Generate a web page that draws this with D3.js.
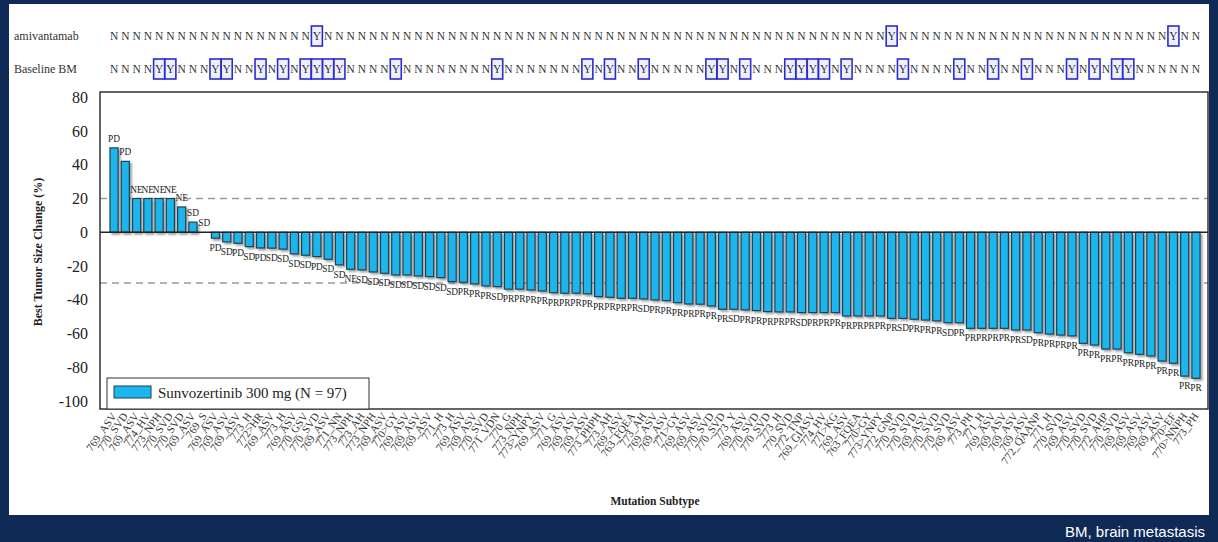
<!DOCTYPE html>
<html>
<head>
<meta charset="utf-8">
<script src="https://cdn.jsdelivr.net/npm/d3@7"></script>
<style>
  body { margin: 0; background: #0f2a56; }
  svg { display: block; }
  text { font-family: "Liberation Serif", "Times New Roman", serif; }
</style>
</head>
<body>
<svg id="chart"></svg>
<script>
// mutation subtype per patient (left to right)
let subtypes = [
  "769_ASV","770_SVD","769_ASV","774_HV","773_NPH","770_SVD","770_SVD","769_ASV","769_S","769_ASV",
  "769_ASV","769_ASV","773_H","772>HR","769_ASV","773_H","769_ASV","770_GSV","770_SVD","769_ASV",
  "771_NN","773_NPH","773_AH","773_NPH","769_ASV","770>GY","769_ASV","769_ASV","769_ASV","771_H",
  "773_H","769_ASV","769_ASV","770_SVD","771_VDN","770_G","773_NPH","773>YNPY","769_ASV","771_G",
  "769_ASV","769_ASV","769_ASV","773_PHPH","773_AH","769_ASV","763_FQEA","773_AH","769_ASV","769_ASV",
  "771>GY","769_ASV","769_ASV","770_SVD","770_SVD","773_Y","769_ASV","770_SVD","770_SVD","773_H",
  "770_SVD","772_TNP","769_GIASV","774_HV","771>KG","769_ASV","763_FQEA","770>GY","773>YNPY","772_GNP",
  "770_SVD","770_SVD","769_ASV","770_SVD","770_SVD","769_ASV","773_PH","771_H","769_ASV","769_ASV",
  "769_ASV","769_ASV","772_QAANP","771_H","770_SVD","769_ASV","770_SVD","770_SVD","772_AHP","770_SVD",
  "769_ASV","769_ASV","769_ASV","769_ASV","770>EF","770>NNPH","773_PH"
];

// best tumor size change (%)
let changes = [
  50, 42, 20, 20, 20, 20, 15, 6, 0, -3.5,
  -5.7, -6.5, -8.5, -9.3, -9.4, -10, -12.8, -13.6, -14.4, -16,
  -19.3, -21.9, -22.3, -23.5, -24.3, -25.3, -25.3, -25.9, -26.3, -26.9,
  -29.2, -29.6, -30.6, -31.8, -32.2, -33.7, -33.7, -34.2, -34.8, -35.8,
  -36.1, -36.1, -36.5, -38.1, -38.5, -39.1, -39.1, -39.5, -40.1, -40.5,
  -41.7, -42.5, -42.6, -43.7, -45.6, -45.6, -46, -46.4, -47, -47.2,
  -47.2, -47.6, -47.6, -47.6, -47.6, -49.6, -49.6, -49.6, -49.6, -51,
  -51, -51.5, -52, -52.5, -53.6, -53.6, -56.9, -56.9, -56.9, -56.9,
  -57.9, -57.9, -59.5, -60.3, -60.9, -61.4, -65.8, -66.8, -69.2, -69.2,
  -71.4, -72.3, -73.3, -76.3, -77.6, -85.2, -86.5
];

// best overall response
let responses = [
  "PD","PD","NE","NE","NE","NE","NE","SD","SD","PD",
  "SD","PD","SD","PD","SD","SD","SD","SD","PD","SD",
  "SD","NE","SD","SD","SD","SD","SD","SD","SD","SD",
  "SD","PR","PR","PR","SD","PR","PR","PR","PR","PR",
  "PR","PR","PR","PR","PR","PR","PR","SD","PR","PR",
  "PR","PR","PR","PR","PR","SD","PR","PR","PR","PR",
  "PR","SD","PR","PR","PR","PR","PR","PR","PR","PR",
  "SD","PR","PR","PR","SD","PR","PR","PR","PR","PR",
  "PR","SD","PR","PR","PR","PR","PR","PR","PR","PR",
  "PR","PR","PR","PR","PR","PR","PR"
];

// prior amivantamab / baseline brain metastasis
let amivantamab = ("NNNNNNNNNN" + "NNNNNNNNYN" + "NNNNNNNNNN" + "NNNNNNNNNN" + "NNNNNNNNNN" +
                   "NNNNNNNNNN" + "NNNNNNNNNY" + "NNNNNNNNNN" + "NNNNNNNNNN" + "NNNNYNN").split("");
let baselineBM = ("NNNNYYNNNY" + "YNNYNYNYYY" + "YNNNNYNNNN" + "NNNNYNNNNN" + "NNYNYNNYNN" +
                  "NNNYYNYNNN" + "YYYYNYNNNN" + "YNNNNYNNYN" + "NYNNNYNYNY" + "YNNNNNN").split("");

let yTicks = [80, 60, 40, 20, 0, -20, -40, -60, -80, -100];
let refLines = [20, -30];

function drawChart() {
    let w = 1218, h = 542;
    let svg = d3.select("#chart").attr("width", w).attr("height", h);

    svg.append("rect").attr("width", w).attr("height", h).attr("fill", "#0f2a56");
    svg.append("rect").attr("x", 9).attr("y", 4).attr("width", 1200).attr("height", 511).attr("fill", "#fff");

    let defs = svg.append("defs");
    let f = defs.append("filter").attr("id", "shadow").attr("x", "-30%").attr("y", "-10%")
        .attr("width", "180%").attr("height", "130%");
    f.append("feDropShadow").attr("dx", 2).attr("dy", 2).attr("stdDeviation", 1.2)
        .attr("flood-color", "#555").attr("flood-opacity", 0.55);

    let left = 100, right = 1208, top = 92, bottom = 409;

    let x = d3.scaleBand()
        .domain(d3.range(subtypes.length))
        .range([108.4, 1201.6])
        .paddingInner(0.28)
        .paddingOuter(0.14);

    let y = d3.scaleLinear().domain([-104.7, 83.1]).range([bottom, top]);

    // reference lines
    svg.selectAll(".ref")
        .data(refLines)
        .enter()
        .append("line")
        .attr("x1", left).attr("x2", right)
        .attr("y1", d => y(d)).attr("y2", d => y(d))
        .attr("stroke", "#9a9a9a")
        .attr("stroke-width", 1.5)
        .attr("stroke-dasharray", "7,5");

    // bars
    svg.append("g").attr("filter", "url(#shadow)")
        .selectAll("rect")
        .data(changes)
        .enter()
        .append("rect")
        .attr("x", (d, i) => x(i))
        .attr("width", x.bandwidth())
        .attr("y", d => y(Math.max(0, d)))
        .attr("height", d => Math.abs(y(d) - y(0)))
        .attr("fill", "#1ab6ec")
        .attr("stroke", "#1d4256")
        .attr("stroke-width", 1.2);

    // zero line
    svg.append("line")
        .attr("x1", left).attr("x2", right)
        .attr("y1", y(0)).attr("y2", y(0))
        .attr("stroke", "#222").attr("stroke-width", 1.5);

    // frame
    svg.append("rect")
        .attr("x", left).attr("y", top)
        .attr("width", right - left).attr("height", bottom - top)
        .attr("fill", "none").attr("stroke", "#333").attr("stroke-width", 1.5);

    // response labels
    svg.selectAll(".resp")
        .data(responses)
        .enter()
        .append("text")
        .attr("x", (d, i) => x(i) + x.bandwidth() / 2)
        .attr("y", (d, i) => changes[i] >= 0 ? y(changes[i]) - 6 : y(changes[i]) + 13)
        .attr("text-anchor", "middle")
        .style("font-size", "9.4px")
        .attr("fill", "#222")
        .text(d => d);

    // y axis
    let yAxis = svg.append("g")
        .attr("transform", `translate(${left},0)`)
        .call(d3.axisLeft(y).tickValues(yTicks).tickSize(0).tickPadding(12).tickFormat(d => String(d)));
    yAxis.select(".domain").remove();
    yAxis.selectAll("text")
        .style("font-family", "'Liberation Serif', 'Times New Roman', serif")
        .style("font-size", "16px")
        .attr("fill", "#222");

    svg.append("text")
        .attr("transform", "translate(42,252) rotate(-90)")
        .attr("text-anchor", "middle")
        .style("font-size", "12px")
        .style("font-weight", "bold")
        .attr("fill", "#222")
        .text("Best Tumor Size Change (%)");

    // x tick labels
    svg.selectAll(".xlab")
        .data(subtypes)
        .enter()
        .append("text")
        .attr("transform", (d, i) => `translate(${x(i) + x.bandwidth() / 2 + 3},416) rotate(-55)`)
        .attr("text-anchor", "end")
        .style("font-size", "11px")
        .attr("fill", "#333")
        .text(d => d);

    svg.append("text")
        .attr("x", 655).attr("y", 505)
        .attr("text-anchor", "middle")
        .style("font-size", "11.5px")
        .style("font-weight", "bold")
        .attr("fill", "#222")
        .text("Mutation Subtype");

    // legend
    svg.append("rect")
        .attr("x", 107).attr("y", 378).attr("width", 262).attr("height", 31)
        .attr("fill", "#fff").attr("stroke", "#333").attr("stroke-width", 1);
    svg.append("rect")
        .attr("x", 114).attr("y", 386).attr("width", 37).attr("height", 12)
        .attr("fill", "#1ab6ec").attr("stroke", "#1d4256");
    svg.append("text")
        .attr("x", 158).attr("y", 398)
        .style("font-size", "15px")
        .attr("fill", "#222")
        .text("Sunvozertinib 300 mg (N = 97)");

    // Y/N rows
    let rows = [
        { name: "amivantamab", vals: amivantamab, cy: 36 },
        { name: "Baseline BM", vals: baselineBM, cy: 69 }
    ];
    rows.forEach(r => {
        svg.append("text")
            .attr("x", 14).attr("y", r.cy + 4)
            .style("font-size", "12px")
            .attr("fill", "#333")
            .text(r.name);

        let g = svg.append("g");
        g.selectAll("rect")
            .data(r.vals.map((v, i) => ({ v, i })).filter(d => d.v === "Y"))
            .enter()
            .append("rect")
            .attr("x", d => x(d.i) + x.bandwidth() / 2 - 5.5)
            .attr("y", r.cy - 10)
            .attr("width", 11)
            .attr("height", 20)
            .attr("fill", "#eef0ff")
            .attr("stroke", "#2b2bd0")
            .attr("stroke-width", 1.6);
        g.selectAll("text")
            .data(r.vals)
            .enter()
            .append("text")
            .attr("x", (d, i) => x(i) + x.bandwidth() / 2)
            .attr("y", r.cy + 4)
            .attr("text-anchor", "middle")
            .style("font-size", "11.5px")
            .attr("fill", "#333")
            .text(d => d);
    });

    // footnote
    svg.append("text")
        .attr("x", 1205).attr("y", 537)
        .attr("text-anchor", "end")
        .style("font-family", "'Liberation Sans', Arial, sans-serif")
        .style("font-size", "15px")
        .attr("fill", "#fff")
        .text("BM, brain metastasis");
}

window.onload = function() {
    drawChart();
}
</script>
</body>
</html>
